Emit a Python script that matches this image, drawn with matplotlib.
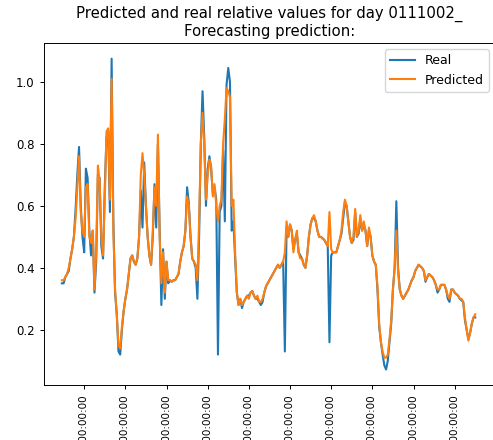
import matplotlib
matplotlib.use("Agg")
import matplotlib.pyplot as plt
import matplotlib.dates as mdates
import pandas as pd

# hourly relative values, starting 11:00 the day before the first full day
start_time = "2018-01-01 11:00"

real = [0.35, 0.35, 0.37, 0.38, 0.39, 0.43, 0.46, 0.50, 0.59, 0.70,
        0.79, 0.60, 0.50, 0.45, 0.72, 0.69, 0.52, 0.44, 0.52, 0.32,
        0.42, 0.70, 0.69, 0.47, 0.43, 0.66, 0.82, 0.84, 0.58, 1.075,
        0.55, 0.32, 0.25, 0.13, 0.12, 0.20, 0.26, 0.30, 0.33, 0.38,
        0.43, 0.44, 0.42, 0.41, 0.43, 0.50, 0.65, 0.53, 0.74, 0.60,
        0.50, 0.44, 0.41, 0.50, 0.67, 0.53, 0.80, 0.52, 0.28, 0.46,
        0.30, 0.42, 0.35, 0.36, 0.355, 0.36, 0.36, 0.37, 0.38, 0.42,
        0.45, 0.47, 0.52, 0.66, 0.61, 0.50, 0.43, 0.42, 0.40, 0.30,
        0.50, 0.80, 0.97, 0.82, 0.60, 0.72, 0.76, 0.72, 0.64, 0.66,
        0.62, 0.12, 0.58, 0.60, 0.78, 0.55, 0.99, 1.045, 1.00, 0.52,
        0.55, 0.43, 0.32, 0.28, 0.30, 0.27, 0.29, 0.30, 0.31, 0.31,
        0.32, 0.325, 0.31, 0.30, 0.30, 0.29, 0.28, 0.29, 0.32, 0.34,
        0.35, 0.36, 0.37, 0.38, 0.39, 0.40, 0.41, 0.40, 0.41, 0.42,
        0.13, 0.53, 0.50, 0.54, 0.52, 0.46, 0.49, 0.51, 0.45, 0.44,
        0.43, 0.41, 0.40, 0.44, 0.50, 0.54, 0.56, 0.56, 0.55, 0.52,
        0.50, 0.50, 0.495, 0.49, 0.48, 0.47, 0.16, 0.44, 0.45, 0.45,
        0.45, 0.47, 0.49, 0.51, 0.56, 0.61, 0.60, 0.55, 0.50, 0.48,
        0.49, 0.58, 0.50, 0.51, 0.56, 0.52, 0.54, 0.52, 0.47, 0.52,
        0.50, 0.44, 0.42, 0.41, 0.33, 0.21, 0.16, 0.12, 0.085, 0.072,
        0.10, 0.16, 0.22, 0.33, 0.40, 0.615, 0.40, 0.33, 0.31, 0.30,
        0.31, 0.32, 0.33, 0.345, 0.36, 0.37, 0.39, 0.40, 0.41, 0.405,
        0.40, 0.39, 0.355, 0.37, 0.38, 0.375, 0.37, 0.36, 0.345, 0.32,
        0.33, 0.345, 0.345, 0.345, 0.33, 0.30, 0.29, 0.33, 0.33, 0.32,
        0.315, 0.31, 0.30, 0.295, 0.29, 0.23, 0.20, 0.17, 0.19, 0.22,
        0.24, 0.24]

predicted = [0.36, 0.36, 0.37, 0.38, 0.40, 0.43, 0.46, 0.50, 0.56, 0.66,
             0.76, 0.58, 0.52, 0.50, 0.66, 0.67, 0.50, 0.48, 0.52, 0.33,
             0.45, 0.73, 0.68, 0.50, 0.44, 0.62, 0.84, 0.85, 0.62, 1.01,
             0.52, 0.33, 0.25, 0.15, 0.14, 0.21, 0.26, 0.30, 0.33, 0.38,
             0.43, 0.44, 0.42, 0.41, 0.43, 0.50, 0.70, 0.77, 0.70, 0.60,
             0.50, 0.44, 0.41, 0.52, 0.66, 0.60, 0.83, 0.50, 0.35, 0.45,
             0.32, 0.42, 0.36, 0.36, 0.355, 0.36, 0.36, 0.37, 0.38, 0.42,
             0.45, 0.47, 0.52, 0.63, 0.60, 0.50, 0.43, 0.42, 0.41, 0.36,
             0.55, 0.80, 0.90, 0.80, 0.62, 0.70, 0.75, 0.73, 0.63, 0.67,
             0.60, 0.55, 0.60, 0.62, 0.80, 0.88, 0.98, 0.97, 0.95, 0.60,
             0.62, 0.45, 0.32, 0.28, 0.30, 0.28, 0.29, 0.30, 0.31, 0.30,
             0.32, 0.325, 0.31, 0.30, 0.31, 0.29, 0.29, 0.30, 0.32, 0.34,
             0.35, 0.36, 0.37, 0.38, 0.39, 0.40, 0.41, 0.40, 0.41, 0.42,
             0.45, 0.55, 0.50, 0.54, 0.52, 0.45, 0.49, 0.52, 0.45, 0.43,
             0.43, 0.41, 0.40, 0.44, 0.50, 0.54, 0.56, 0.57, 0.55, 0.52,
             0.50, 0.50, 0.495, 0.49, 0.48, 0.47, 0.58, 0.46, 0.45, 0.45,
             0.45, 0.47, 0.49, 0.52, 0.58, 0.62, 0.60, 0.55, 0.50, 0.48,
             0.50, 0.59, 0.50, 0.52, 0.57, 0.52, 0.55, 0.52, 0.47, 0.53,
             0.50, 0.44, 0.42, 0.41, 0.34, 0.22, 0.16, 0.13, 0.11, 0.11,
             0.12, 0.17, 0.23, 0.33, 0.40, 0.52, 0.39, 0.33, 0.31, 0.30,
             0.31, 0.32, 0.33, 0.345, 0.36, 0.37, 0.39, 0.40, 0.41, 0.405,
             0.40, 0.39, 0.36, 0.37, 0.38, 0.375, 0.37, 0.36, 0.345, 0.33,
             0.33, 0.345, 0.345, 0.345, 0.33, 0.31, 0.30, 0.33, 0.33, 0.32,
             0.315, 0.31, 0.30, 0.30, 0.29, 0.24, 0.20, 0.165, 0.19, 0.22,
             0.24, 0.25]

day_name = "0111002_"

times = pd.date_range(start_time, periods=len(real), freq="h")

fig = plt.figure(figsize=(4.93, 4.40), dpi=100)
ax = fig.add_axes([0.089, 0.125, 0.915, 0.777])

ax.plot(times, real, color="#1f77b4", lw=1.5, label="Real")
ax.plot(times, predicted, color="#ff7f0e", lw=1.5, label="Predicted")

ax.set_title("Predicted and real relative values for day " + day_name +
             "\nForecasting prediction:", fontsize=10.7, pad=5)

# keep some room either side of the data without reaching the next midnight
ax.set_xlim(times[0] - pd.Timedelta(hours=10.5),
            times[-1] + pd.Timedelta(hours=11.5))
ax.xaxis.set_major_locator(mdates.DayLocator())
ax.xaxis.set_major_formatter(mdates.DateFormatter("%Y-%m-%d %H:%M:%S"))
ax.set_yticks([0.2, 0.4, 0.6, 0.8, 1.0])
ax.tick_params(axis="y", labelsize=8.5, length=3.2, width=0.7)
ax.tick_params(axis="x", labelsize=7.5, length=3.2, width=0.7, pad=4)
plt.setp(ax.get_xticklabels(), rotation=90)
for s in ax.spines.values():
    s.set_linewidth(0.7)

ax.legend(loc="upper right", fontsize=9, handlelength=2)

fig.savefig("out.png", dpi=100)
